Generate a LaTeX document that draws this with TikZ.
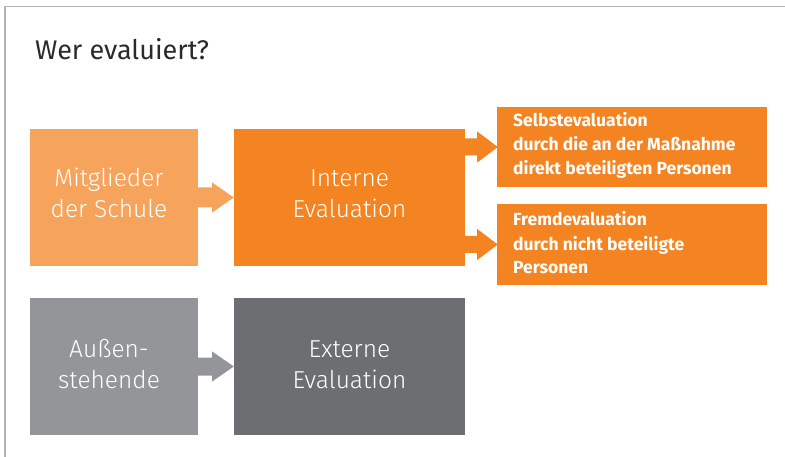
\documentclass[tikz,border=0pt]{standalone}
\usepackage{fontspec}
\setmainfont{Fira Sans}
\newfontfamily\lightfont{Fira Sans Light}
\usetikzlibrary{calc}
\definecolor{lorange}{HTML}{F6A35C}
\definecolor{dorange}{HTML}{F38421}
\definecolor{lgray}{HTML}{939598}
\definecolor{dgray}{HTML}{6D6E71}
\definecolor{framegray}{HTML}{B4B4B4}
\definecolor{titlecol}{HTML}{2B2A29}
\tikzset{
  boxnode/.style={rectangle, inner sep=0pt, draw=none},
  bigtext/.style={text=white, align=center, inner sep=0pt, font=\lightfont\fontsize{24.5pt}{31pt}\selectfont},
  smalltext/.style={text=white, align=left, inner sep=0pt, font=\bfseries\fontsize{17.5pt}{24pt}\selectfont},
}
\begin{document}
\begin{tikzpicture}[x=1pt,y=-1pt]
\useasboundingbox (0,0) rectangle (785,457);
% frame
\draw[framegray, line width=1.5pt] (5,457) -- (5,6.5) -- (785,6.5);
% title
\node[anchor=base west, inner sep=0pt, text=titlecol, font=\fontsize{27pt}{32pt}\selectfont] (title) at (35,60) {Wer evaluiert?};
% boxes
\node[boxnode, fill=lorange, minimum width=168pt, minimum height=137pt] (m) at (114,197.5) {};
\node[boxnode, fill=dorange, minimum width=231pt, minimum height=137pt] (i) at (349.5,197.5) {};
\node[boxnode, fill=lgray, minimum width=168pt, minimum height=137pt] (a) at (114,366.5) {};
\node[boxnode, fill=dgray, minimum width=231pt, minimum height=137pt] (e) at (349.5,366.5) {};
\node[boxnode, fill=dorange, minimum width=270pt, minimum height=80pt] (s) at (632,147) {};
\node[boxnode, fill=dorange, minimum width=270pt, minimum height=81pt] (f) at (632,244.5) {};
% texts (base = baseline of last line)
\node[bigtext, anchor=base] (mt) at (109,218) {Mitglieder\\der Schule};
\node[bigtext, anchor=base] (it) at (349.5,218) {Interne\\Evaluation};
\node[bigtext, anchor=base] (at) at (109,388) {Außen-\\stehende};
\node[bigtext, anchor=base] (et) at (349.5,388) {Externe\\Evaluation};
\node[smalltext, anchor=base west] (st) at (513,175) {Selbstevaluation\\durch die an der Maßnahme\\direkt beteiligten Personen};
\node[smalltext, anchor=base west] (ft) at (513,274) {Fremdevaluation\\durch nicht beteiligte\\Personen};
% arrows
\fill[lorange] ($(m.east)+(0,-10)$) -- ++(14,0) -- ++(0,-5) -- (i.west) -- ($(m.east)+(14,15)$) -- ++(0,-5) -- ($(m.east)+(0,10)$) -- cycle;
\fill[lgray] ($(a.east)+(0,-9)$) -- ++(14,0) -- ++(0,-6) -- (e.west) -- ($(a.east)+(14,15)$) -- ++(0,-6) -- ($(a.east)+(0,9)$) -- cycle;
\fill[dorange] ($(i.east |- s.west)+(0,-8.5)$) -- ++(12,0) -- ++(0,-7) -- ($(s.west)+(1,0)$) -- ($(i.east |- s.west)+(12,15.5)$) -- ++(0,-7) -- ($(i.east |- s.west)+(0,8.5)$) -- cycle;
\fill[dorange] ($(i.east |- f.west)+(0,-8.5)$) -- ++(12,0) -- ++(0,-7) -- ($(f.west)+(1,0)$) -- ($(i.east |- f.west)+(12,15.5)$) -- ++(0,-7) -- ($(i.east |- f.west)+(0,8.5)$) -- cycle;
\end{tikzpicture}
\end{document}
